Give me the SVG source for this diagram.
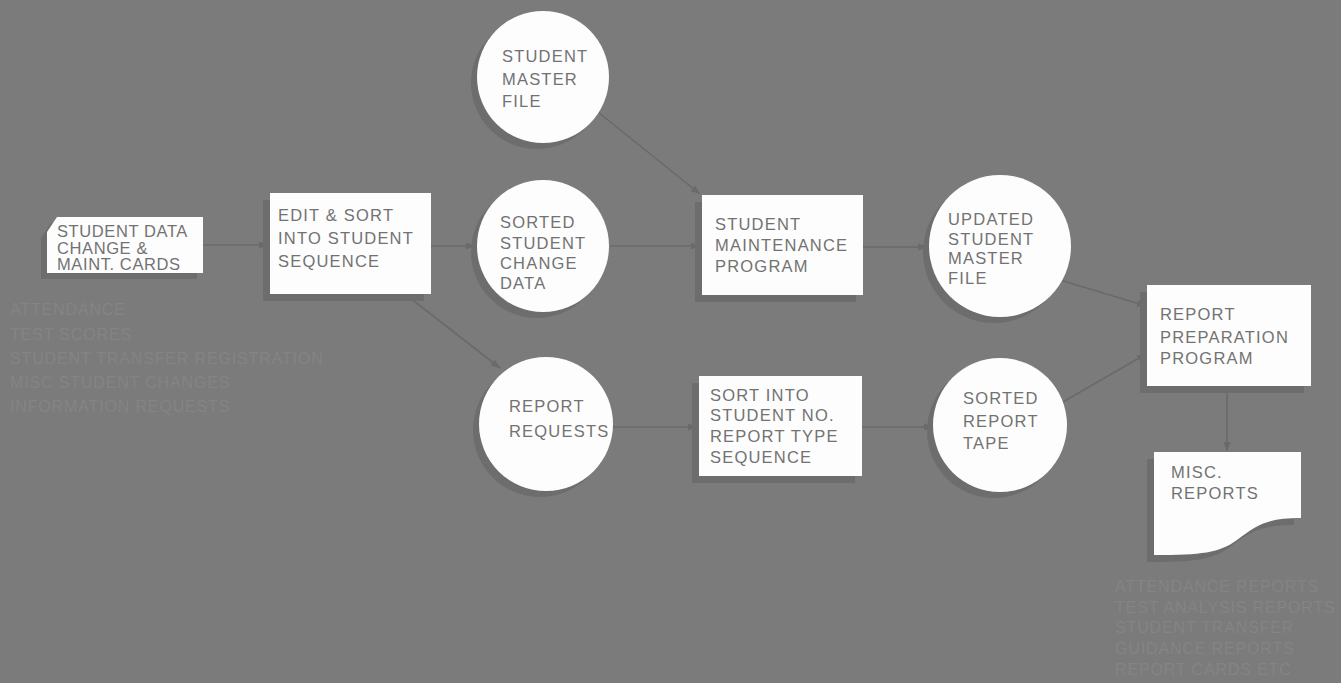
<svg xmlns="http://www.w3.org/2000/svg" width="1341" height="683" viewBox="0 0 1341 683">
<style>
.bg{fill:#7b7b7b}
.n{fill:#fdfdfd}
.sh{fill:#6d6d6d}
.t{font-family:"Liberation Sans",Arial,sans-serif;font-size:16.5px;fill:#727272;letter-spacing:1.2px}
.tc{letter-spacing:0.6px}
.f{font-family:"Liberation Sans",Arial,sans-serif;font-size:16px;fill:#848484;letter-spacing:0.85px}
.c{stroke:#6a6a6a;stroke-width:1.6;fill:none;marker-end:url(#ah)}
</style>
<defs>
<marker id="ah" viewBox="0 0 10 10" refX="10" refY="5" markerWidth="9" markerHeight="9" markerUnits="userSpaceOnUse" orient="auto">
<path d="M0,1 L10,5 L0,9 z" fill="#6a6a6a"/>
</marker>
</defs>
<rect class="bg" x="0" y="0" width="1341" height="683"/>

<g id="connectors">
<line class="c" x1="203" y1="245" x2="268" y2="245"/>
<line class="c" x1="431" y1="246" x2="475" y2="246"/>
<line class="c" x1="405" y1="294" x2="500" y2="368"/>
<line class="c" x1="598" y1="112" x2="700" y2="194"/>
<line class="c" x1="610" y1="246" x2="700" y2="246"/>
<line class="c" x1="863" y1="247" x2="927" y2="247"/>
<line class="c" x1="613" y1="427" x2="697" y2="427"/>
<line class="c" x1="862" y1="427" x2="933" y2="427"/>
<line class="c" x1="1060" y1="280" x2="1146" y2="306"/>
<line class="c" x1="1063" y1="402" x2="1146" y2="354"/>
<line class="c" x1="1227" y1="386" x2="1227" y2="451"/>
</g>

<g id="cards">
<path class="sh" d="M41,238 L51,223 L197,223 L197,279 L41,279 z"/>
<path class="n" d="M47,232 L57,217 L203,217 L203,273 L47,273 z"/>
<text class="t tc"><tspan x="57" y="237">STUDENT DATA</tspan><tspan x="57" y="254">CHANGE &amp;</tspan><tspan x="57" y="270">MAINT. CARDS</tspan></text>
</g>

<g id="edit-sort">
<rect class="sh" x="263" y="200" width="161" height="101"/>
<rect class="n" x="270" y="193" width="161" height="101"/>
<text class="t"><tspan x="278" y="221">EDIT &amp; SORT</tspan><tspan x="278" y="244">INTO STUDENT</tspan><tspan x="278" y="267">SEQUENCE</tspan></text>
</g>

<g id="student-master">
<circle class="sh" cx="537" cy="83" r="66"/>
<circle class="n" cx="543" cy="77" r="66"/>
<text class="t"><tspan x="502" y="62">STUDENT</tspan><tspan x="502" y="85">MASTER</tspan><tspan x="502" y="107">FILE</tspan></text>
</g>

<g id="sorted-change">
<circle class="sh" cx="537" cy="252" r="66"/>
<circle class="n" cx="543" cy="246" r="66"/>
<text class="t"><tspan x="500" y="228">SORTED</tspan><tspan x="500" y="249">STUDENT</tspan><tspan x="500" y="269">CHANGE</tspan><tspan x="500" y="289">DATA</tspan></text>
</g>

<g id="report-requests">
<circle class="sh" cx="540" cy="430" r="67"/>
<circle class="n" cx="546" cy="424" r="67"/>
<text class="t"><tspan x="509" y="412">REPORT</tspan><tspan x="509" y="437">REQUESTS</tspan></text>
</g>

<g id="student-maintenance">
<rect class="sh" x="695" y="202" width="161" height="100"/>
<rect class="n" x="702" y="195" width="161" height="100"/>
<text class="t"><tspan x="715" y="230">STUDENT</tspan><tspan x="715" y="251">MAINTENANCE</tspan><tspan x="715" y="272">PROGRAM</tspan></text>
</g>

<g id="sort-into">
<rect class="sh" x="692" y="383" width="163" height="100"/>
<rect class="n" x="699" y="376" width="163" height="100"/>
<text class="t"><tspan x="710" y="401">SORT INTO</tspan><tspan x="710" y="421">STUDENT NO.</tspan><tspan x="710" y="442">REPORT TYPE</tspan><tspan x="710" y="463">SEQUENCE</tspan></text>
</g>

<g id="updated-master">
<circle class="sh" cx="994" cy="252" r="71"/>
<circle class="n" cx="1000" cy="246" r="71"/>
<text class="t"><tspan x="948" y="225">UPDATED</tspan><tspan x="948" y="245">STUDENT</tspan><tspan x="948" y="264">MASTER</tspan><tspan x="948" y="284">FILE</tspan></text>
</g>

<g id="sorted-tape">
<circle class="sh" cx="994" cy="431" r="67"/>
<circle class="n" cx="1000" cy="425" r="67"/>
<text class="t"><tspan x="963" y="404">SORTED</tspan><tspan x="963" y="427">REPORT</tspan><tspan x="963" y="449">TAPE</tspan></text>
</g>

<g id="report-prep">
<rect class="sh" x="1140" y="292" width="164" height="101"/>
<rect class="n" x="1147" y="285" width="164" height="101"/>
<text class="t"><tspan x="1160" y="320">REPORT</tspan><tspan x="1160" y="343">PREPARATION</tspan><tspan x="1160" y="364">PROGRAM</tspan></text>
</g>

<g id="misc-reports">
<path class="sh" d="M1147,459 L1294,459 L1294,525 C1260,525 1250,532 1230,547 C1212,560 1195,562 1147,562 z"/>
<path class="n" d="M1154,452 L1301,452 L1301,518 C1267,518 1257,525 1237,540 C1219,553 1202,555 1154,555 z"/>
<text class="t"><tspan x="1171" y="478">MISC.</tspan><tspan x="1171" y="499">REPORTS</tspan></text>
</g>

<g id="input-notes">
<text class="f"><tspan x="10" y="315">ATTENDANCE</tspan><tspan x="10" y="340">TEST SCORES</tspan><tspan x="10" y="364">STUDENT TRANSFER REGISTRATION</tspan><tspan x="10" y="388">MISC STUDENT CHANGES</tspan><tspan x="10" y="412">INFORMATION REQUESTS</tspan></text>
</g>

<g id="output-notes">
<text class="f"><tspan x="1115" y="592">ATTENDANCE REPORTS</tspan><tspan x="1115" y="613">TEST ANALYSIS REPORTS</tspan><tspan x="1115" y="633">STUDENT TRANSFER</tspan><tspan x="1115" y="654">GUIDANCE REPORTS</tspan><tspan x="1115" y="675">REPORT CARDS ETC</tspan></text>
</g>
</svg>
